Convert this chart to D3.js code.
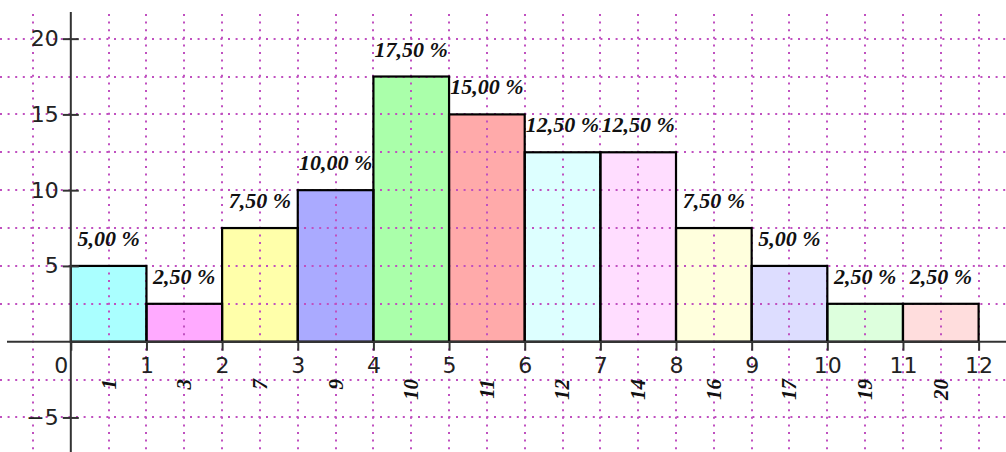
<!DOCTYPE html>
<html>
<head>
<meta charset="utf-8">
<script src="https://cdn.jsdelivr.net/npm/d3@7"></script>
<style>
  html, body { margin: 0; padding: 0; background: #fff; }
  svg { display: block; }
  .tick text { font-family: "DejaVu Sans", sans-serif; font-size: 22px; fill: #222; }
  .pct { font-family: "Liberation Serif", "Times New Roman", serif; font-weight: bold; font-style: italic; font-size: 22px; fill: #111; }
  .cat { font-family: "Liberation Serif", "Times New Roman", serif; font-weight: bold; font-style: italic; font-size: 21px; fill: #111; }
</style>
</head>
<body>
<div id="chart"></div>
<script>
// chart data
const categories = ['1', '3', '7', '9', '10', '11', '12', '14', '16', '17', '19', '20'];
const percents = [5, 2.5, 7.5, 10, 17.5, 15, 12.5, 12.5, 7.5, 5, 2.5, 2.5];
const barColors = ['#aaffff', '#ffaaff', '#ffffaa', '#aaaaff', '#aaffaa', '#ffaaaa',
                   '#ddffff', '#ffddff', '#ffffdd', '#ddddff', '#ddffdd', '#ffdddd'];
const xTicks = [0, 1, 2, 3, 4, 5, 6, 7, 8, 9, 10, 11, 12];
const yTicks = [-5, 5, 10, 15, 20];

const width = 1006;
const height = 452;

const xScale = d3.scaleLinear().domain([-0.936, 12.362]).range([0, width]);
const yScale = d3.scaleLinear().domain([-7.28, 22.55]).range([height, 0]);

const svg = d3.select('#chart').append('svg')
    .attr('width', width)
    .attr('height', height);

// bar fills
svg.append('g')
    .selectAll('rect')
    .data(percents)
    .join('rect')
    .attr('x', (d, i) => xScale(i))
    .attr('y', d => yScale(d))
    .attr('width', xScale(1) - xScale(0))
    .attr('height', d => yScale(0) - yScale(d))
    .attr('fill', (d, i) => barColors[i]);

// dotted grid on top of the fills
const grid = svg.append('g')
    .attr('stroke', '#c050c0')
    .attr('stroke-width', 2)
    .attr('stroke-dasharray', '2 5.6');

grid.selectAll('line.v')
    .data(d3.range(-0.5, 12.5, 0.5).filter(v => v !== 0))
    .join('line')
    .attr('class', 'v')
    .attr('x1', d => Math.round(xScale(d)))
    .attr('x2', d => Math.round(xScale(d)))
    .attr('y1', 14)
    .attr('y2', height);

grid.selectAll('line.h')
    .data(d3.range(-5, 22.5, 2.5).filter(v => v !== 0))
    .join('line')
    .attr('class', 'h')
    .attr('x1', 0)
    .attr('x2', width)
    .attr('y1', d => Math.round(yScale(d)))
    .attr('y2', d => Math.round(yScale(d)));

// bar outlines
svg.append('g')
    .selectAll('rect')
    .data(percents)
    .join('rect')
    .attr('x', (d, i) => xScale(i))
    .attr('y', d => yScale(d))
    .attr('width', xScale(1) - xScale(0))
    .attr('height', d => yScale(0) - yScale(d))
    .attr('fill', 'none')
    .attr('stroke', '#000')
    .attr('stroke-width', 2.2);

// axes
const xAxis = svg.append('g')
    .attr('transform', `translate(0,${yScale(0)})`)
    .call(d3.axisBottom(xScale).tickValues(xTicks).tickSize(9).tickPadding(6.5));
xAxis.select('.domain').remove();
xAxis.selectAll('.tick line').attr('stroke', '#333').attr('stroke-width', 2);
xAxis.selectAll('.tick text').filter(d => d === 0).attr('dx', -10);

svg.append('line')
    .attr('x1', 7).attr('x2', width)
    .attr('y1', yScale(0)).attr('y2', yScale(0))
    .attr('stroke', '#333').attr('stroke-width', 2);

const yAxis = svg.append('g')
    .attr('transform', `translate(${xScale(0)},0)`)
    .call(d3.axisLeft(yScale).tickValues(yTicks).tickSize(8).tickPadding(4).tickFormat(d => d < 0 ? '\u2212' + (-d) : d));
yAxis.select('.domain').remove();
yAxis.selectAll('.tick line').attr('x2', 8).attr('x1', -8).attr('stroke', '#333').attr('stroke-width', 2);

svg.append('line')
    .attr('x1', xScale(0)).attr('x2', xScale(0))
    .attr('y1', 12).attr('y2', height)
    .attr('stroke', '#333').attr('stroke-width', 2);

// percent labels
svg.append('g')
    .selectAll('text')
    .data(percents)
    .join('text')
    .attr('class', 'pct')
    .attr('x', (d, i) => xScale(i + 0.5))
    .attr('y', d => yScale(d) - 20)
    .attr('text-anchor', 'middle')
    .text(d => d.toFixed(2).replace('.', ',') + ' %');

// rotated category labels
svg.append('g')
    .selectAll('text')
    .data(categories)
    .join('text')
    .attr('class', 'cat')
    .attr('transform', (d, i) => `translate(${xScale(i + 0.5)},379) rotate(-90)`)
    .attr('dy', '0.33em')
    .attr('text-anchor', 'end')
    .text(d => d);
</script>
</body>
</html>
